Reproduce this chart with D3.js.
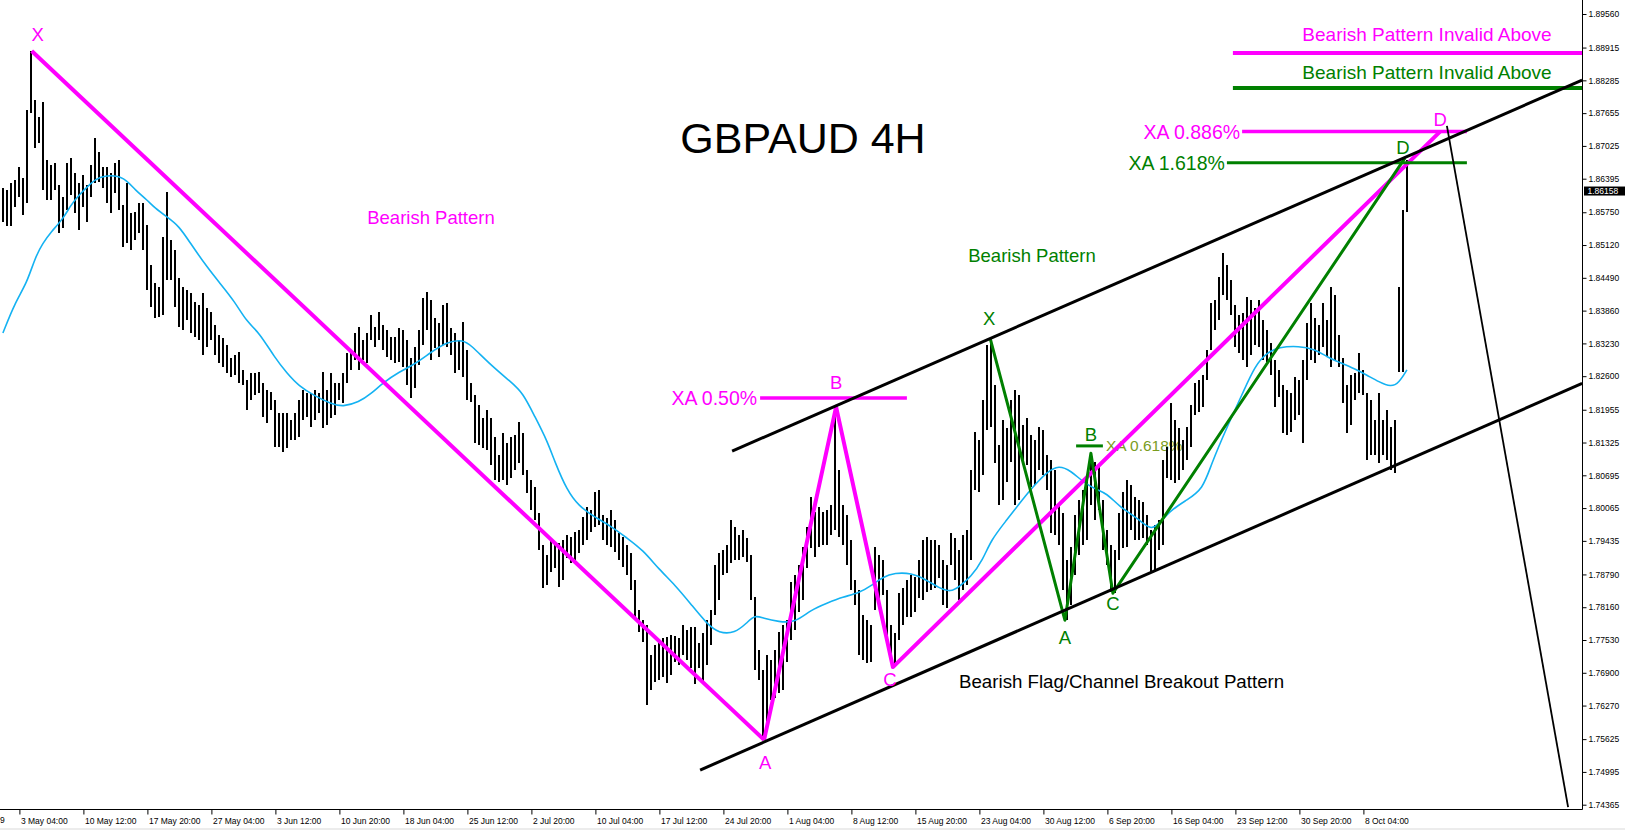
<!DOCTYPE html>
<html><head><meta charset="utf-8">
<script src="https://cdn.jsdelivr.net/npm/d3@7"></script>
<style>
html,body{margin:0;padding:0;background:#fff;}
svg{display:block;}
text{font-family:"Liberation Sans",Arial,sans-serif;}
</style></head><body>
<svg id="c" width="1625" height="830"></svg>
<script>
// ---- 8H bar highs / lows (GBPAUD) ----
const highs = [1.8622,1.8618,1.8631,1.8637,1.8662,1.8641,1.8772,1.8885,1.8791,1.8758,
1.8787,1.8675,1.8666,1.8670,1.8627,1.8604,1.8670,1.8679,1.8650,1.8631,
1.8647,1.8627,1.8666,1.8718,1.8691,1.8662,1.8662,1.8650,1.8670,1.8675,
1.8589,1.8631,1.8574,1.8576,1.8593,1.8593,1.8551,1.8474,1.8439,1.8431,
1.8527,1.8614,1.8522,1.8503,1.8449,1.8431,1.8426,1.8420,1.8403,1.8397,
1.8420,1.8391,1.8383,1.8358,1.8339,1.8333,1.8320,1.8295,1.8301,1.8306,
1.8272,1.8253,1.8266,1.8266,1.8268,1.8247,1.8233,1.8230,1.8214,1.8189,
1.8189,1.8189,1.8176,1.8189,1.8214,1.8233,1.8228,1.8228,1.8233,1.8228,
1.8268,1.8233,1.8266,1.8247,1.8247,1.8266,1.8305,1.8310,1.8343,1.8355,
1.8330,1.8343,1.8378,1.8355,1.8383,1.8358,1.8349,1.8335,1.8335,1.8353,
1.8349,1.8330,1.8295,1.8316,1.8349,1.8410,1.8422,1.8406,1.8372,1.8362,
1.8397,1.8401,1.8353,1.8343,1.8330,1.8364,1.8310,1.8247,1.8224,1.8205,
1.8180,1.8195,1.8180,1.8143,1.8108,1.8151,1.8132,1.8143,1.8147,1.8172,
1.8151,1.8080,1.8060,1.8047,1.7997,1.7936,1.7916,1.7945,1.7936,1.7939,
1.7945,1.7955,1.7951,1.7960,1.7964,1.7989,1.8009,1.8003,1.8037,1.8041,
1.7993,1.7987,1.8003,1.7984,1.7959,1.7951,1.7936,1.7920,1.7868,1.7811,
1.7791,1.7782,1.7724,1.7743,1.7753,1.7757,1.7759,1.7763,1.7761,1.7757,
1.7782,1.7772,1.7778,1.7778,1.7747,1.7766,1.7791,1.7811,1.7897,1.7920,
1.7926,1.7936,1.7984,1.7970,1.7955,1.7964,1.7949,1.7916,1.7836,1.7734,
1.7695,1.7724,1.7714,1.7734,1.7768,1.7782,1.7791,1.7864,1.7878,1.7897,
1.7932,1.7970,1.8028,1.7999,1.8009,1.7999,1.8003,1.8012,1.8201,1.8080,
1.8012,1.7993,1.7945,1.7868,1.7849,1.7801,1.7791,1.7782,1.7932,1.7916,
1.7907,1.7849,1.7782,1.7766,1.7843,1.7853,1.7868,1.7878,1.7874,1.7907,
1.7945,1.7951,1.7945,1.7945,1.7936,1.7907,1.7897,1.7959,1.7949,1.7926,
1.7955,1.7964,1.8080,1.8153,1.8137,1.8214,1.8320,1.8333,1.8243,1.8128,
1.8176,1.8160,1.8214,1.8233,1.8224,1.8166,1.8180,1.8147,1.8137,1.8162,
1.8157,1.8108,1.8099,1.8080,1.8012,1.7997,1.7907,1.7932,1.7993,1.8022,
1.8041,1.8060,1.8112,1.8095,1.8089,1.8022,1.7964,1.7936,1.7926,1.7997,
1.8037,1.8060,1.8051,1.8028,1.8022,1.8018,1.7993,1.7964,1.7974,1.7984,
1.8099,1.8124,1.8208,1.8176,1.8160,1.8137,1.8162,1.8205,1.8247,1.8253,
1.8262,1.8310,1.8401,1.8406,1.8451,1.8497,1.8474,1.8445,1.8397,1.8378,
1.8381,1.8412,1.8406,1.8391,1.8406,1.8368,1.8349,1.8324,1.8291,1.8272,
1.8243,1.8233,1.8228,1.8258,1.8253,1.8291,1.8362,1.8401,1.8372,1.8358,
1.8401,1.8368,1.8431,1.8416,1.8339,1.8295,1.8243,1.8262,1.8266,1.8305,
1.8272,1.8228,1.8214,1.8176,1.8228,1.8176,1.8195,1.8162,1.8176,1.8431,
1.8579,1.8675];
const lows = [1.8556,1.8549,1.8549,1.8585,1.8604,1.8570,1.8593,1.8766,1.8699,1.8708,
1.8618,1.8599,1.8599,1.8618,1.8535,1.8545,1.8579,1.8608,1.8574,1.8541,
1.8585,1.8556,1.8604,1.8631,1.8633,1.8622,1.8593,1.8574,1.8612,1.8579,
1.8508,1.8516,1.8503,1.8522,1.8535,1.8503,1.8426,1.8393,1.8372,1.8374,
1.8378,1.8445,1.8445,1.8393,1.8355,1.8349,1.8368,1.8343,1.8335,1.8330,
1.8301,1.8316,1.8330,1.8301,1.8285,1.8278,1.8266,1.8258,1.8262,1.8247,
1.8243,1.8195,1.8214,1.8224,1.8228,1.8182,1.8170,1.8195,1.8124,1.8124,
1.8114,1.8122,1.8137,1.8137,1.8143,1.8176,1.8182,1.8162,1.8176,1.8189,
1.8160,1.8166,1.8180,1.8185,1.8214,1.8208,1.8247,1.8272,1.8291,1.8272,
1.8291,1.8285,1.8330,1.8316,1.8330,1.8310,1.8297,1.8291,1.8285,1.8287,
1.8278,1.8243,1.8218,1.8237,1.8281,1.8320,1.8349,1.8291,1.8314,1.8297,
1.8320,1.8316,1.8301,1.8266,1.8272,1.8258,1.8214,1.8210,1.8132,1.8128,
1.8122,1.8118,1.8089,1.8060,1.8057,1.8060,1.8051,1.8064,1.8080,1.8093,
1.8070,1.8035,1.8003,1.7984,1.7926,1.7853,1.7859,1.7884,1.7891,1.7855,
1.7868,1.7911,1.7901,1.7907,1.7920,1.7936,1.7945,1.7960,1.7970,1.7974,
1.7945,1.7936,1.7932,1.7922,1.7907,1.7893,1.7878,1.7849,1.7791,1.7768,
1.7749,1.7628,1.7657,1.7672,1.7676,1.7682,1.7670,1.7686,1.7711,1.7705,
1.7724,1.7714,1.7699,1.7668,1.7699,1.7670,1.7705,1.7743,1.7801,1.7830,
1.7878,1.7882,1.7901,1.7907,1.7907,1.7912,1.7903,1.7830,1.7695,1.7676,
1.7561,1.7590,1.7638,1.7641,1.7651,1.7657,1.7711,1.7753,1.7772,1.7807,
1.7830,1.7891,1.7930,1.7912,1.7932,1.7936,1.7936,1.7955,1.7964,1.7951,
1.7936,1.7897,1.7849,1.7820,1.7724,1.7714,1.7709,1.7711,1.7811,1.7830,
1.7839,1.7753,1.7709,1.7701,1.7753,1.7782,1.7797,1.7797,1.7807,1.7834,
1.7830,1.7845,1.7849,1.7853,1.7872,1.7820,1.7814,1.7897,1.7868,1.7830,
1.7849,1.7859,1.7907,1.8041,1.8037,1.8070,1.8157,1.8162,1.8093,1.8012,
1.8022,1.8057,1.8095,1.8012,1.8022,1.8095,1.8089,1.8047,1.8051,1.8080,
1.8070,1.8041,1.7959,1.7955,1.7936,1.7849,1.7791,1.7820,1.7878,1.7916,
1.7936,1.7945,1.8012,1.7984,1.8003,1.7926,1.7897,1.7845,1.7843,1.7907,
1.7930,1.7932,1.7964,1.7945,1.7945,1.7949,1.7936,1.7884,1.7884,1.7926,
1.7936,1.8064,1.8060,1.8055,1.8060,1.8080,1.8099,1.8124,1.8185,1.8191,
1.8201,1.8253,1.8310,1.8349,1.8368,1.8416,1.8406,1.8378,1.8316,1.8305,
1.8291,1.8278,1.8301,1.8320,1.8316,1.8291,1.8287,1.8262,1.8201,1.8220,
1.8151,1.8147,1.8153,1.8176,1.8185,1.8132,1.8253,1.8291,1.8285,1.8301,
1.8316,1.8297,1.8278,1.8291,1.8278,1.8208,1.8151,1.8166,1.8214,1.8228,
1.8224,1.8099,1.8108,1.8108,1.8093,1.8108,1.8099,1.8080,1.8074,1.8268,
1.8268,1.8576];

// ---- moving average (sampled at bar indices) ----
const maIndex = [0,3,6,8,10,12,15,17,19,22,24,28,31,33,36,38,41,44,47,51,54,58,61,64,68,71,74,78,82,85,89,92,95,99,103,107,111,115,117,122,127,130,133,136,138,141,144,148,152,156,160,164,168,172,176,179,183,186,188,190,194,198,202,206,210,214,217,220,223,227,231,234,237,239,242,245,247,251,254,257,261,264,267,270,273,276,279,284,287,289,292,296,300,302,306,310,313,316,319,324,328,331,334,338,341,344,347,349,351];
const maValues = [1.8343,1.8401,1.8439,1.8487,1.8516,1.8537,1.8562,1.8589,1.8608,1.8631,1.8643,1.8647,1.8637,1.8618,1.8599,1.8583,1.8566,1.8549,1.8514,1.8470,1.8441,1.8403,1.8364,1.8345,1.8295,1.8266,1.8241,1.8222,1.8207,1.8201,1.8210,1.8226,1.8247,1.8268,1.8283,1.8306,1.8326,1.8330,1.8320,1.8281,1.8249,1.8228,1.8182,1.8137,1.8095,1.8041,1.8010,1.7989,1.7972,1.7949,1.7926,1.7889,1.7859,1.7822,1.7784,1.7766,1.7766,1.7786,1.7801,1.7795,1.7788,1.7786,1.7811,1.7824,1.7836,1.7843,1.7857,1.7874,1.7882,1.7882,1.7868,1.7853,1.7845,1.7855,1.7874,1.7907,1.7945,1.7984,1.8014,1.8043,1.8076,1.8089,1.8078,1.8057,1.8043,1.8035,1.8010,1.7985,1.7964,1.7976,1.8003,1.8022,1.8043,1.8089,1.8162,1.8228,1.8280,1.8305,1.8316,1.8318,1.8312,1.8297,1.8287,1.8274,1.8262,1.8249,1.8239,1.8247,1.8272];

// ---- axes ----
const priceTicks = [1.89560,1.88915,1.88285,1.87655,1.87025,1.86395,1.85750,1.85120,1.84490,1.83860,1.83230,1.82600,1.81955,1.81325,1.80695,1.80065,1.79435,1.78790,1.78160,1.77530,1.76900,1.76270,1.75625,1.74995,1.74365];
const timeTickIndex = [4,20,36,52,68,84,100,116,132,148,164,180,196,212,228,244,260,276,292,308,324,340];
const timeTickLabels = ["3 May 04:00","10 May 12:00","17 May 20:00","27 May 04:00","3 Jun 12:00","10 Jun 20:00","18 Jun 04:00","25 Jun 12:00","2 Jul 20:00","10 Jul 04:00","17 Jul 12:00","24 Jul 20:00","1 Aug 04:00","8 Aug 12:00","15 Aug 20:00","23 Aug 04:00","30 Aug 12:00","6 Sep 20:00","16 Sep 04:00","23 Sep 12:00","30 Sep 20:00","8 Oct 04:00"];
const edgeLabel = "9";   // visible tail of the clipped first date label
const lastPrice = 1.86158;

// ---- pattern annotations (bar index, price) ----
const pinkXA = [[7.2,1.8885],[190.3,1.7561]];
const pinkABCD = [[190.3,1.7561],[208.3,1.8201],[222.5,1.7701],[359.3,1.8730]];
const greenXABCD = [[246.8,1.8333],[265.5,1.7791],[272,1.8112],[277.5,1.7843],[350.5,1.8679]];
const channelUpper = [[182.3,1.8116],[394.8,1.8829]];
const channelLower = [[174.3,1.7503],[394.8,1.8246]];
const projection = [[361,1.8741],[391.3,1.7432]];
const levelNames = ["XA 0.50%","XA 0.886%","XA 1.618%","XA 0.618%","",""];
const levelPrices = [1.8218,1.8730,1.8670,1.8126,1.8881,1.8814];
const levelFrom = [189.3,309.8,306,268.3,307.5,307.5];
const levelTo = [226,366,366,275,394.8,394.8];

const MAG="#ff00ff", GRN="#008000", OLIVE="#7a9c1e", MA="#14b2f2";
const AXF='"DejaVu Sans",Verdana,sans-serif';

const svg = d3.select('#c');
const plotR = 1582.5, plotB = 809.5;
const x = d3.scaleLinear().domain([0,351]).range([2.9, 2.9+4*351]);
const y = d3.scaleLinear().domain([1.74365,1.89560]).range([804.7,14]);

svg.append('defs').append('clipPath').attr('id','plot')
  .append('rect').attr('x',0).attr('y',0).attr('width',plotR).attr('height',plotB);
const g = svg.append('g').attr('clip-path','url(#plot)');

// XA 0.618 text is behind the bars
g.append('text').attr('x', x(levelTo[3])+3).attr('y', y(levelPrices[3])+5.5)
  .attr('fill',OLIVE).attr('font-size',15.5).text(levelNames[3]);

// bars
g.append('g').selectAll('line').data(highs).join('line')
  .attr('x1',(d,i)=>Math.round(x(i))).attr('x2',(d,i)=>Math.round(x(i)))
  .attr('y1',d=>y(d)).attr('y2',(d,i)=>y(lows[i]))
  .attr('stroke','#000').attr('stroke-width',2).attr('shape-rendering','crispEdges');

// moving average
const maPts = maIndex.map((k,i)=>[k,maValues[i]]).filter(p=>p[1]!==undefined);
g.append('path').datum(maPts)
  .attr('d', d3.line().x(p=>x(p[0])).y(p=>y(p[1])).curve(d3.curveBasis))
  .attr('fill','none').attr('stroke',MA).attr('stroke-width',1.6);

const line = d3.line().x(p=>x(p[0])).y(p=>y(p[1]));
// pink pattern
g.append('path').datum(pinkXA).attr('d',line).attr('fill','none').attr('stroke',MAG).attr('stroke-width',4);
g.append('path').datum(pinkABCD).attr('d',line).attr('fill','none').attr('stroke',MAG).attr('stroke-width',4).attr('stroke-linejoin','round');
// levels
const levelColors = [MAG,MAG,GRN,GRN,MAG,GRN];
const levelWidths = [3.5,3.5,3,3,4,4];
levelPrices.forEach((p,i)=>{
  g.append('line').attr('x1',x(levelFrom[i])).attr('x2',x(levelTo[i]))
   .attr('y1',y(p)).attr('y2',y(p)).attr('stroke',levelColors[i]).attr('stroke-width',levelWidths[i]);
});
// green pattern
g.append('path').datum(greenXABCD).attr('d',line).attr('fill','none').attr('stroke',GRN).attr('stroke-width',3).attr('stroke-linejoin','round');
// channel
[channelUpper, channelLower].forEach(c=>{
  g.append('path').datum(c).attr('d',line).attr('fill','none').attr('stroke','#000').attr('stroke-width',3);
});
g.append('path').datum(projection).attr('d',line).attr('fill','none').attr('stroke','#000').attr('stroke-width',1.8);

// texts
function txt(px,py,s,color,size,anchor){
  return svg.append('text').attr('x',px).attr('y',py).attr('fill',color)
    .attr('font-size',size).attr('text-anchor',anchor||'middle').attr('dy','0.36em').text(s);
}
txt(803,138,"GBPAUD 4H","#000",43);
txt(431,217,"Bearish Pattern",MAG,18.5);
txt(1032,255,"Bearish Pattern",GRN,18.5);
txt(959,681,"Bearish Flag/Channel Breakout Pattern","#000",18.7,'start');
txt(1427,34,"Bearish Pattern Invalid Above",MAG,19);
txt(1427,72,"Bearish Pattern Invalid Above",GRN,19);
txt(x(levelFrom[0])-3,y(levelPrices[0]),levelNames[0],MAG,19.5,'end');
txt(x(levelFrom[1])-2,y(levelPrices[1]),levelNames[1],MAG,19.5,'end');
txt(x(levelFrom[2])-2,y(levelPrices[2]),levelNames[2],GRN,19.5,'end');

// point labels
const P = (a)=>[x(a[0]),y(a[1])];
const pinkLabels = [["X",pinkXA[0],6,-17],["A",pinkABCD[0],1,22],["B",pinkABCD[1],0,-25],["C",pinkABCD[2],-3,12],["D",pinkABCD[3],0,-12]];
pinkLabels.forEach(l=>{const p=P(l[1]); txt(p[0]+l[2],p[1]+l[3],l[0],MAG,18.5);});
const greenLabels = [["X",greenXABCD[0],-1,-20],["A",greenXABCD[1],0,17],["B",greenXABCD[2],0,-19],["C",greenXABCD[3],0,10],["D",greenXABCD[4],-2,-11]];
greenLabels.forEach(l=>{const p=P(l[1]); txt(p[0]+l[2],p[1]+l[3],l[0],GRN,18.5);});

// right price axis
const ya = svg.append('g').attr('transform',`translate(${plotR},0)`)
  .call(d3.axisRight(y).tickValues(priceTicks).tickFormat(d3.format('.5f')).tickSize(4).tickPadding(2));
ya.select('.domain').remove();
ya.selectAll('text').attr('font-family',AXF).attr('font-size',8.5).attr('fill','#000');
ya.selectAll('line').attr('stroke','#000');
svg.append('line').attr('x1',plotR).attr('x2',plotR).attr('y1',0).attr('y2',plotB).attr('stroke','#000');

// bottom time axis
const xa = svg.append('g').attr('transform',`translate(0,${plotB})`)
  .call(d3.axisBottom(x).tickValues(timeTickIndex).tickFormat((d,i)=>timeTickLabels[i]).tickSize(5).tickPadding(3));
xa.select('.domain').remove();
xa.selectAll('line').attr('stroke','#000').attr('transform','translate(0.5,0)');
xa.selectAll('text').attr('text-anchor','start').attr('x',1.5).attr('font-family',AXF).attr('font-size',8.5).attr('fill','#000');
svg.append('text').attr('x',0).attr('y',plotB+13.5).attr('font-family',AXF).attr('font-size',8.5).text(edgeLabel);
svg.append('line').attr('x1',0).attr('x2',plotR).attr('y1',plotB).attr('y2',plotB).attr('stroke','#000');

// last price label
const ly = y(lastPrice);
svg.append('rect').attr('x',plotR+1.5).attr('y',ly-4.5).attr('width',1625-plotR).attr('height',9).attr('fill','#000');
svg.append('text').attr('x',plotR+5).attr('y',ly).attr('dy','0.36em').attr('font-family',AXF).attr('font-size',8.5).attr('fill','#fff').text(d3.format('.5f')(lastPrice));

svg.append('rect').attr('x',0).attr('y',828).attr('width',1625).attr('height',2).attr('fill','#ececec');
</script>
</body></html>
